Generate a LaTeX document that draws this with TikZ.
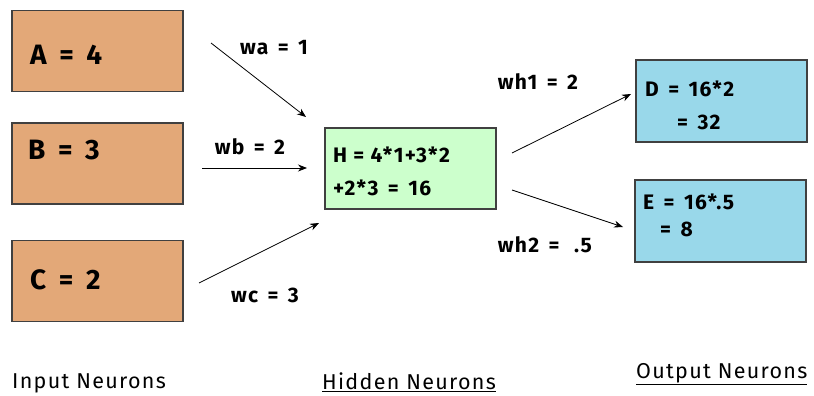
\documentclass[tikz,border=0pt]{standalone}
\usepackage{fontspec}
\setmainfont{Fira Sans}
\newfontfamily\wide[LetterSpace=6]{Fira Sans}
\usetikzlibrary{arrows.meta}
\definecolor{inorange}{RGB}{227,168,120}
\definecolor{hidgreen}{RGB}{204,255,204}
\definecolor{outblue}{RGB}{153,216,234}
\newcommand{\eqs}{\hspace{0.45em}=\hspace{0.45em}}
\begin{document}
\begin{tikzpicture}[x=1pt,y=-1pt,
  neuron/.style={draw=black!75, line width=1.1pt, inner sep=0pt},
  inbox/.style={neuron, fill=inorange, minimum width=171pt, minimum height=81pt},
  boxtext/.style={anchor=west, inner sep=0pt, font=\wide\fontsize{28}{30}\selectfont\bfseries},
  calctext/.style={anchor=west, inner sep=0pt, font=\wide\fontsize{21}{24}\selectfont\bfseries},
  wlabel/.style={inner sep=0pt, font=\wide\fontsize{21}{24}\selectfont\bfseries},
  caption/.style={anchor=west, inner sep=0pt, font=\wide\fontsize{21.5}{24}\selectfont},
  wire/.style={black, line width=0.8pt, -{Stealth[length=9pt,width=7pt]}}]
\useasboundingbox[fill=white] (0,0) rectangle (814,396);

% input neurons
\node[inbox] (A) at (97.5,51) {};
\node[inbox] (B) at (97.5,163.5) {};
\node[inbox] (C) at (97.5,281) {};
\node[boxtext] (At) at (30,55) {A\eqs 4};
\node[boxtext] (Bt) at (28,150) {B\eqs 3};
\node[boxtext] (Ct) at (30,280) {C\eqs 2};

% hidden neuron
\node[neuron, fill=hidgreen, minimum width=171pt, minimum height=81pt] (H) at (410.5,168.5) {};
\node[calctext] (Ht1) at (333,155) {H~=~4*1+3*2};
\node[calctext] (Ht2) at (333,188) {+2*3\eqs 16};

% output neurons
\node[neuron, fill=outblue, minimum width=171pt, minimum height=82pt] (D) at (721.5,101) {};
\node[neuron, fill=outblue, minimum width=171pt, minimum height=82pt] (E) at (720.5,221) {};
\node[calctext] (Dt1) at (645,89) {D\eqs 16*2};
\node[calctext] (Dt2) at (677,122) {=\hspace{0.45em}32};
\node[calctext] (Et1) at (643,202) {E\eqs 16*.5};
\node[calctext] (Et2) at (660,229) {=\hspace{0.45em}8};

% connector ends
\coordinate (a0) at (211,43);  \coordinate (a1) at (306,117);
\coordinate (b0) at (202,168); \coordinate (b1) at (307,168);
\coordinate (c0) at (199,283); \coordinate (c1) at (319,223);
\coordinate (d0) at (512,153); \coordinate (d1) at (631,94);
\coordinate (e0) at (512,190); \coordinate (e1) at (623,227);
\draw[wire] (a0) -- (a1);
\draw[wire] (b0) -- (b1);
\draw[wire] (c0) -- (c1);
\draw[wire] (d0) -- (d1);
\draw[wire] (e0) -- (e1);

% weight labels
\node[wlabel] (wa) at (274,48) {wa\eqs 1};
\node[wlabel] (wb) at (250,147) {wb\eqs 2};
\node[wlabel] (wc) at (265,295) {wc\eqs 3};
\node[wlabel] (wh1) at (538,82) {wh1\eqs 2};
\node[wlabel] (wh2) at (545,245) {wh2\eqs\hspace{0.25em}.5};

% captions
\node[caption] (inp) at (12,383) {Input Neurons};
\node[caption] (hid) at (322,382) {\underline{Hidden Neurons}};
\node[caption] (out) at (636,374) {\underline{Output Neurons}};
\end{tikzpicture}
\end{document}
